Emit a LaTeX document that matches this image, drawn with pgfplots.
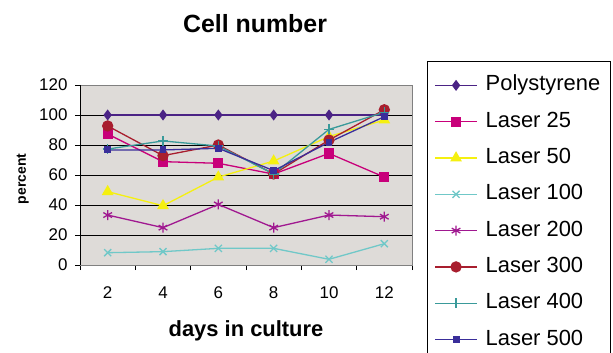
\documentclass[border=0pt]{standalone}
\usepackage{fontspec}
\setmainfont{Liberation Sans}
\usepackage{pgfplots}
\pgfplotsset{compat=1.18}
\definecolor{bgc}{RGB}{222,219,216}
\definecolor{cpoly}{RGB}{75,35,133}
\definecolor{cl25}{RGB}{200,0,122}
\definecolor{cl50}{RGB}{245,240,16}
\definecolor{cl100}{RGB}{112,200,200}
\definecolor{cl200}{RGB}{160,24,144}
\definecolor{cl300}{RGB}{168,30,46}
\definecolor{cl400}{RGB}{58,154,154}
\definecolor{cl500}{RGB}{58,46,154}
\begin{document}
\begin{tikzpicture}
\path[use as bounding box] (0,0) rectangle (613bp,353bp);
\node[anchor=base,font=\fontsize{25}{30}\selectfont\bfseries] at (255bp,320bp) {Cell number};
\begin{axis}[
  at={(80bp,88bp)}, anchor=south west,
  scale only axis, width=332bp, height=180bp,
  xmin=1, xmax=13, ymin=0, ymax=120,
  xtick={1,3,...,13}, x tick label as interval,
  xticklabels={2,4,6,8,10,12},
  ytick={0,20,...,120},
  tick align=outside, tick pos=left,
  major tick length=5bp,
  tick style={black, line width=0.6bp},
  ymajorgrids, grid style={black, line width=0.7bp},
  axis line style={draw=gray, line width=0.8bp},
  axis background/.style={fill=bgc},
  /pgf/number format/assume math mode=true,
  ticklabel style={font=\fontsize{17}{20}\selectfont},
  xticklabel style={yshift=-13bp},
  yticklabel style={xshift=-4bp},
  xlabel={days in culture},
  xlabel style={font=\fontsize{22}{26}\selectfont\bfseries, at={(axis description cs:0.5,0)}, anchor=base, yshift=-71bp},
  ylabel={percent},
  ylabel style={font=\fontsize{14}{16}\selectfont\bfseries, at={(axis description cs:0,0.5)}, anchor=base, xshift=-4bp, yshift=54bp},
  every axis plot/.append style={line width=1.3bp},
  legend cell align=left,
  legend image code/.code={\draw[mark repeat=2,mark phase=2] plot coordinates {(0bp,0bp)(21bp,0bp)(42bp,0bp)};},
  legend style={at={(1.0452,1.1333)}, anchor=north west, draw=black, fill=white, line width=0.8bp,
    font=\fontsize{22}{26}\selectfont, inner xsep=7bp, inner ysep=10.5bp,
    nodes={inner sep=3bp, text height=16bp, text depth=5bp},
    row sep=9.3bp,
    /tikz/every odd column/.style={column sep=5bp}},
]
\addplot[cpoly, mark=diamond*, mark size=4.5bp, mark options={solid}] coordinates {(2,100)(4,100)(6,100)(8,100)(10,100)(12,100)};
\addlegendentry{Polystyrene}
\addplot[cl25, mark=square*, mark size=4.5bp] coordinates {(2,87.3)(4,68.9)(6,67.8)(8,60.6)(10,74.4)(12,58.6)};
\addlegendentry{Laser 25}
\addplot[cl50, mark=triangle*, mark size=5.5bp] coordinates {(2,48.9)(4,39.5)(6,58.6)(8,69.3)(10,85.6)(12,96.7)};
\addlegendentry{Laser 50}
\addplot[cl100, mark=x, mark size=5bp] coordinates {(2,8.2)(4,8.9)(6,11.1)(8,11.1)(10,3.8)(12,14.2)};
\addlegendentry{Laser 100}
\addplot[cl200, mark=asterisk, mark size=5bp] coordinates {(2,33.3)(4,24.9)(6,40.4)(8,24.9)(10,33.3)(12,32.2)};
\addlegendentry{Laser 200}
\addplot[cl300, mark=*, mark size=5bp] coordinates {(2,92.7)(4,72.9)(6,80)(8,60.7)(10,83.3)(12,103.5)};
\addlegendentry{Laser 300}
\addplot[cl400, mark=+, mark size=5bp] coordinates {(2,77.3)(4,82.7)(6,79.3)(8,60.7)(10,90.4)(12,101.8)};
\addlegendentry{Laser 400}
\addplot[cl500, mark=square*, mark size=2.8bp] coordinates {(2,76.7)(4,76.7)(6,77.8)(8,62.9)(10,81.8)(12,98.9)};
\addlegendentry{Laser 500}
\draw[black, line width=0.8bp] (rel axis cs:0,1) -- (rel axis cs:0,0) -- (rel axis cs:1,0);
\end{axis}
\end{tikzpicture}
\end{document}
